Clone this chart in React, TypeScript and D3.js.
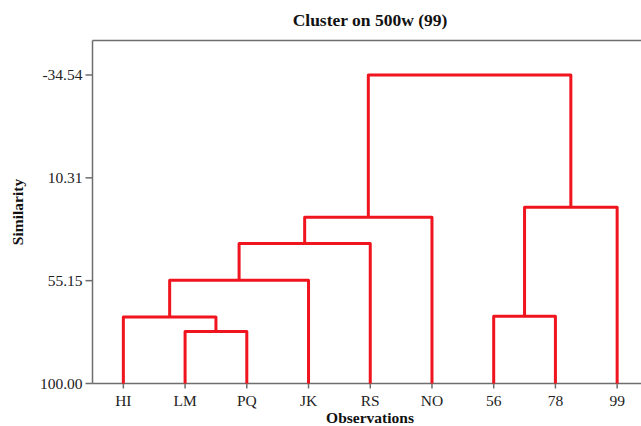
import React from "react";
import * as d3 from "d3";

const leaves = ["HI", "LM", "PQ", "JK", "RS", "NO", "56", "78", "99"];
// merges: [childA, childB, similarity]; indices < 9 are leaves, 9+ are earlier merges
const mergeA = [1, 0, 6, 10, 12, 13, 11, 14];
const mergeB = [2, 9, 7, 3, 4, 5, 8, 15];
const mergeSim = [77.3, 71.0, 70.7, 55.0, 38.9, 27.5, 23.1, -34.54];
const yTicks = [100.0, 55.15, 10.31, -34.54];

const W = 641;
const H = 426;
const left = 92.5;
const right = 648;
const top = 40.5;
const bottom = 383.5;

export default function App() {
  const x = d3.scalePoint<string>().domain(leaves).range([left, right]).padding(0.5);
  const y = d3.scaleLinear().domain([100, -34.54]).range([bottom, 75]);

  const nodeX: number[] = leaves.map((l) => x(l) as number);
  const nodeY: number[] = leaves.map(() => y(100));
  const paths: string[] = [];
  mergeSim.forEach((s, i) => {
    const a = mergeA[i];
    const b = mergeB[i];
    const ys = y(s);
    const p = d3.path();
    p.moveTo(nodeX[a], nodeY[a]);
    p.lineTo(nodeX[a], ys);
    p.lineTo(nodeX[b], ys);
    p.lineTo(nodeX[b], nodeY[b]);
    paths.push(p.toString());
    nodeX.push((nodeX[a] + nodeX[b]) / 2);
    nodeY.push(ys);
  });

  const font = "'Liberation Serif', 'Times New Roman', serif";
  const axisColor = "#6e6e6e";

  return (
    <svg width={W} height={H} style={{ position: "absolute", left: 0, top: 0, background: "#fff" }} fontFamily={font}>
      <text x={370} y={26} textAnchor="middle" fontSize={17.5} fontWeight="bold" fill="#111">
        Cluster on 500w (99)
      </text>
      {/* frame */}
      <line x1={left} x2={W} y1={top} y2={top} stroke={axisColor} strokeWidth={1.5} />
      <line x1={left} x2={left} y1={top} y2={bottom} stroke={axisColor} strokeWidth={1.5} />
      <line x1={left} x2={W} y1={bottom} y2={bottom} stroke={axisColor} strokeWidth={1.5} />
      {/* y ticks */}
      {yTicks.map((t) => (
        <g key={t}>
          <line x1={left - 7} x2={left} y1={y(t)} y2={y(t)} stroke={axisColor} strokeWidth={1.5} />
          <text x={left - 10} y={y(t)} dy="0.34em" textAnchor="end" fontSize={15.5} fill="#222">
            {t.toFixed(2)}
          </text>
        </g>
      ))}
      {/* x ticks */}
      {leaves.map((l) => (
        <g key={l}>
          <line x1={x(l)} x2={x(l)} y1={bottom} y2={bottom + 5} stroke={axisColor} strokeWidth={1.5} />
          <text x={x(l)} y={406} textAnchor="middle" fontSize={15.5} fill="#222">
            {l}
          </text>
        </g>
      ))}
      <text x={370} y={422.5} textAnchor="middle" fontSize={15.5} fontWeight="bold" fill="#111">
        Observations
      </text>
      <text
        transform={`translate(23, 212) rotate(-90)`}
        textAnchor="middle"
        fontSize={15.5}
        fontWeight="bold"
        fill="#111"
      >
        Similarity
      </text>
      {/* dendrogram */}
      {paths.map((d, i) => (
        <path key={i} d={d} fill="none" stroke="#f0141e" strokeWidth={3} strokeLinejoin="round" />
      ))}
    </svg>
  );
}
